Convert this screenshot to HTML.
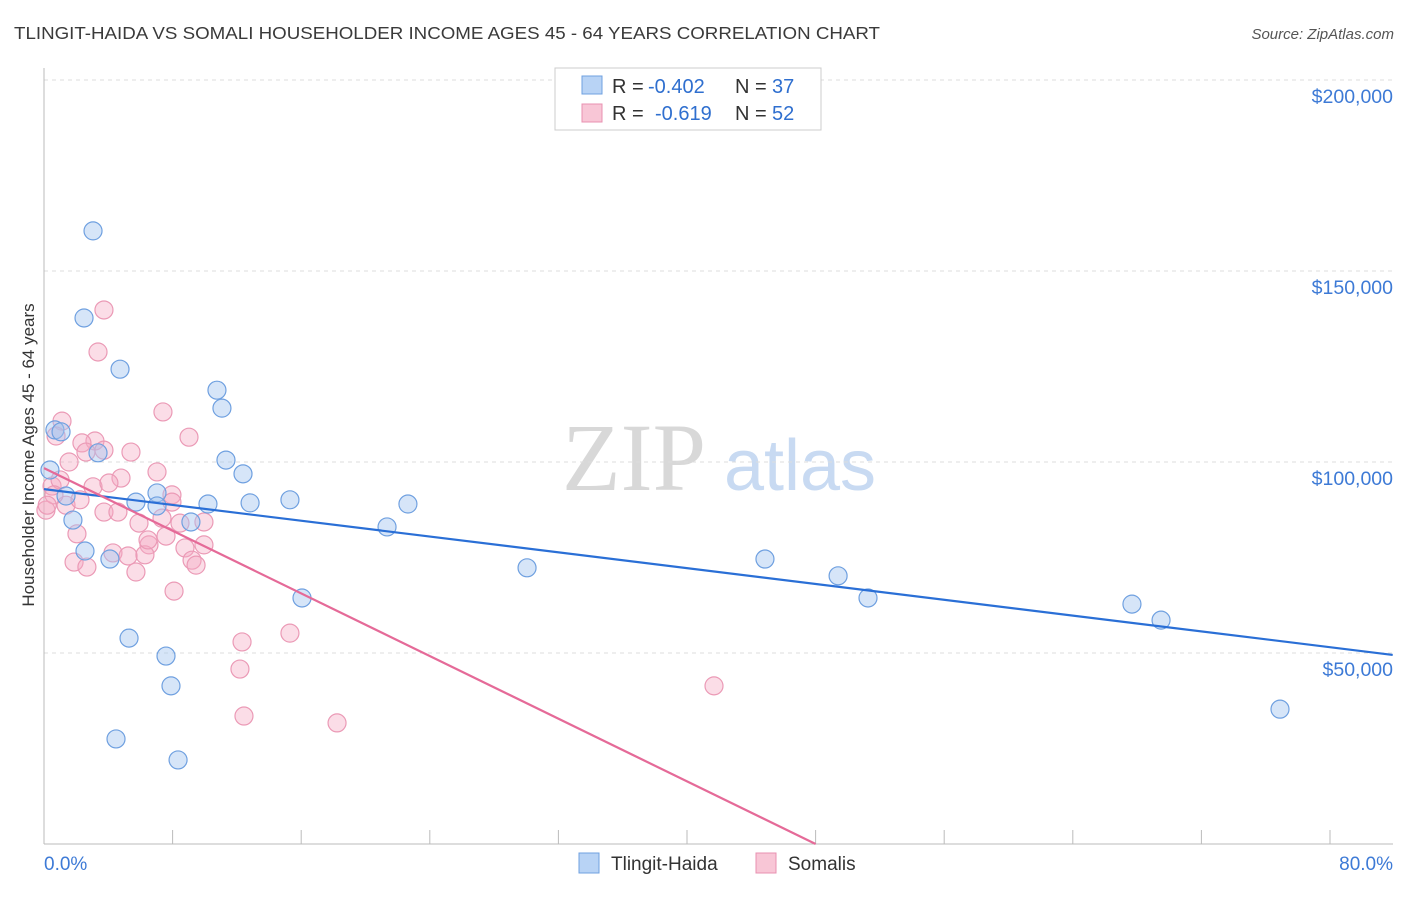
<!DOCTYPE html>
<html><head><meta charset="utf-8"><style>
body{margin:0;background:#fff;font-family:"Liberation Sans",sans-serif;}
</style></head><body>
<svg id="chart" width="1406" height="892" xmlns="http://www.w3.org/2000/svg" font-family="Liberation Sans, sans-serif">
<text x="14" y="39" font-size="17.5" fill="#3a3a3a" textLength="866" lengthAdjust="spacingAndGlyphs">TLINGIT-HAIDA VS SOMALI HOUSEHOLDER INCOME AGES 45 - 64 YEARS CORRELATION CHART</text>
<text x="1394" y="39" font-size="15" fill="#555" font-style="italic" text-anchor="end">Source: ZipAtlas.com</text>
<g>
<text x="634" y="490" font-size="96" fill="#d8d8d8" font-family="Liberation Serif, serif" text-anchor="middle">ZIP</text>
<text x="800" y="490" font-size="72" fill="#c8daf2" text-anchor="middle">atlas</text>
</g>
<g id="grid"></g>
<g id="axes"></g>
<g id="marks"></g>
<text transform="translate(34,455) rotate(-90)" font-size="17" fill="#333" text-anchor="middle">Householder Income Ages 45 - 64 years</text>
<g>
<rect x="555" y="68" width="266" height="62" fill="#fff" stroke="#ccc"/>
<rect x="582" y="76" width="20" height="18" fill="#b8d3f5" stroke="#6fa0e0"/>
<text x="612" y="93" font-size="20" fill="#333">R =</text>
<text x="648" y="93" font-size="20" fill="#2f6fcf">-0.402</text>
<text x="735" y="93" font-size="20" fill="#333">N =</text>
<text x="772" y="93" font-size="20" fill="#2f6fcf">37</text>
<rect x="582" y="104" width="20" height="18" fill="#f8c6d6" stroke="#e890b0"/>
<text x="612" y="120" font-size="20" fill="#333">R =</text>
<text x="655" y="120" font-size="20" fill="#2f6fcf">-0.619</text>
<text x="735" y="120" font-size="20" fill="#333">N =</text>
<text x="772" y="120" font-size="20" fill="#2f6fcf">52</text>
</g>
<g>
<rect x="579" y="853" width="20" height="20" fill="#b8d3f5" stroke="#6fa0e0"/>
<text x="611" y="870" font-size="19" fill="#333">Tlingit-Haida</text>
<rect x="756" y="853" width="20" height="20" fill="#f8c6d6" stroke="#e890b0"/>
<text x="788" y="870" font-size="19" fill="#333">Somalis</text>
</g>
</svg>
<script>
const blueX=[3.05,2.49,4.73,10.76,11.07,0.68,1.06,3.36,11.32,12.38,0.37,1.37,7.03,5.72,10.2,12.82,15.3,22.64,7.03,9.14,1.8,21.34,2.55,4.1,30.05,44.85,49.4,51.26,16.05,5.29,7.59,7.9,4.48,8.34,67.68,69.49,76.89];
const blueY=[160.5,137.7,124.3,118.8,114.1,108.4,107.9,102.4,100.5,96.9,97.9,91.1,91.9,89.5,89.0,89.3,90.1,89.0,88.5,84.3,84.8,83.0,76.7,74.6,72.3,74.6,70.2,64.4,64.4,53.9,49.2,41.4,27.5,22.0,62.8,58.6,35.3];
const pinkX=[3.73,3.36,7.4,1.12,9.02,0.75,3.17,2.36,3.73,5.41,1.56,2.61,7.03,4.79,3.05,4.04,0.5,7.96,1.37,7.96,0.12,3.73,4.6,7.34,5.91,8.46,9.95,2.05,7.59,6.53,8.77,9.95,4.29,5.23,6.28,1.87,2.67,9.21,9.46,5.72,8.09,12.32,15.3,12.19,12.44,18.23,41.68,1.0,0.62,2.24,6.47,0.2];
const pinkY=[139.8,128.8,113.1,110.7,106.5,106.8,105.5,105.0,103.1,102.6,100.0,102.6,97.4,95.8,93.5,94.5,93.7,91.4,88.7,89.5,87.4,86.9,86.9,85.3,84.0,84.0,84.3,81.2,80.6,78.3,77.5,78.3,76.2,75.4,75.7,73.8,72.5,74.3,73.0,71.2,66.2,52.9,55.2,45.8,33.5,31.7,41.4,95.3,91.4,90.1,79.6,88.7];
const blueTrend=[[0,92.9],[83.9,49.5]];
const pinkTrend=[[0,98.4],[48.0,0]];
const yTicks=[50,100,150,200];
const yTickLabels=["$50,000","$100,000","$150,000","$200,000"];
const xTicks=[0,8,16,24,32,40,48,56,64,72,80];
const NS="http://www.w3.org/2000/svg";
const sx=v=>44+v/80*1286;
const sy=v=>844-v/50*191;
function mk(t,a,p){const e=document.createElementNS(NS,t);for(const k in a)e.setAttribute(k,a[k]);p.appendChild(e);return e;}
const grid=document.getElementById('grid'),axes=document.getElementById('axes'),marks=document.getElementById('marks');
yTicks.forEach((v,i)=>{
 const l=mk('line',{x1:44,x2:1393,y1:sy(v),y2:sy(v),stroke:'#ddd','stroke-dasharray':'4,4'},grid);
 
 
 const t=mk('text',{x:1393,y:sy(v)+23,'font-size':19.5,fill:'#3d7ad6','text-anchor':'end'},axes);
 t.textContent=yTickLabels[i];
 
 
});
const ax=mk('line',{x1:44,x2:1393,y1:844,y2:844,stroke:'#bbb'},axes);


const ay=mk('line',{x1:44,x2:44,y1:68,y2:844,stroke:'#bbb'},axes);


xTicks.forEach(v=>{
 const l=mk('line',{x1:sx(v),x2:sx(v),y1:830,y2:844,stroke:'#bbb'},axes);
 
 
});
const x0=mk('text',{x:44,y:870,'font-size':19,fill:'#3d7ad6'},axes);x0.textContent='0.0%';


const x1=mk('text',{x:1393,y:870,'font-size':19,fill:'#3d7ad6','text-anchor':'end'},axes);x1.textContent='80.0%';


pinkX.forEach((v,i)=>{
 const c=mk('circle',{cx:sx(v),cy:sy(pinkY[i]),r:9,fill:'rgba(245,170,195,0.4)',stroke:'#eb9ab6','stroke-width':1.2},marks);
 
 
});
blueX.forEach((v,i)=>{
 const c=mk('circle',{cx:sx(v),cy:sy(blueY[i]),r:9,fill:'rgba(165,198,240,0.45)',stroke:'#6fa0e0','stroke-width':1.2},marks);
 
 
});
const bl=mk('line',{x1:sx(blueTrend[0][0]),y1:sy(blueTrend[0][1]),x2:sx(blueTrend[1][0]),y2:sy(blueTrend[1][1]),stroke:'#2a6fd6','stroke-width':2.2},marks);


const pl=mk('line',{x1:sx(pinkTrend[0][0]),y1:sy(pinkTrend[0][1]),x2:sx(pinkTrend[1][0]),y2:sy(pinkTrend[1][1]),stroke:'#e56a98','stroke-width':2.2},marks);


</script>
</body></html>
